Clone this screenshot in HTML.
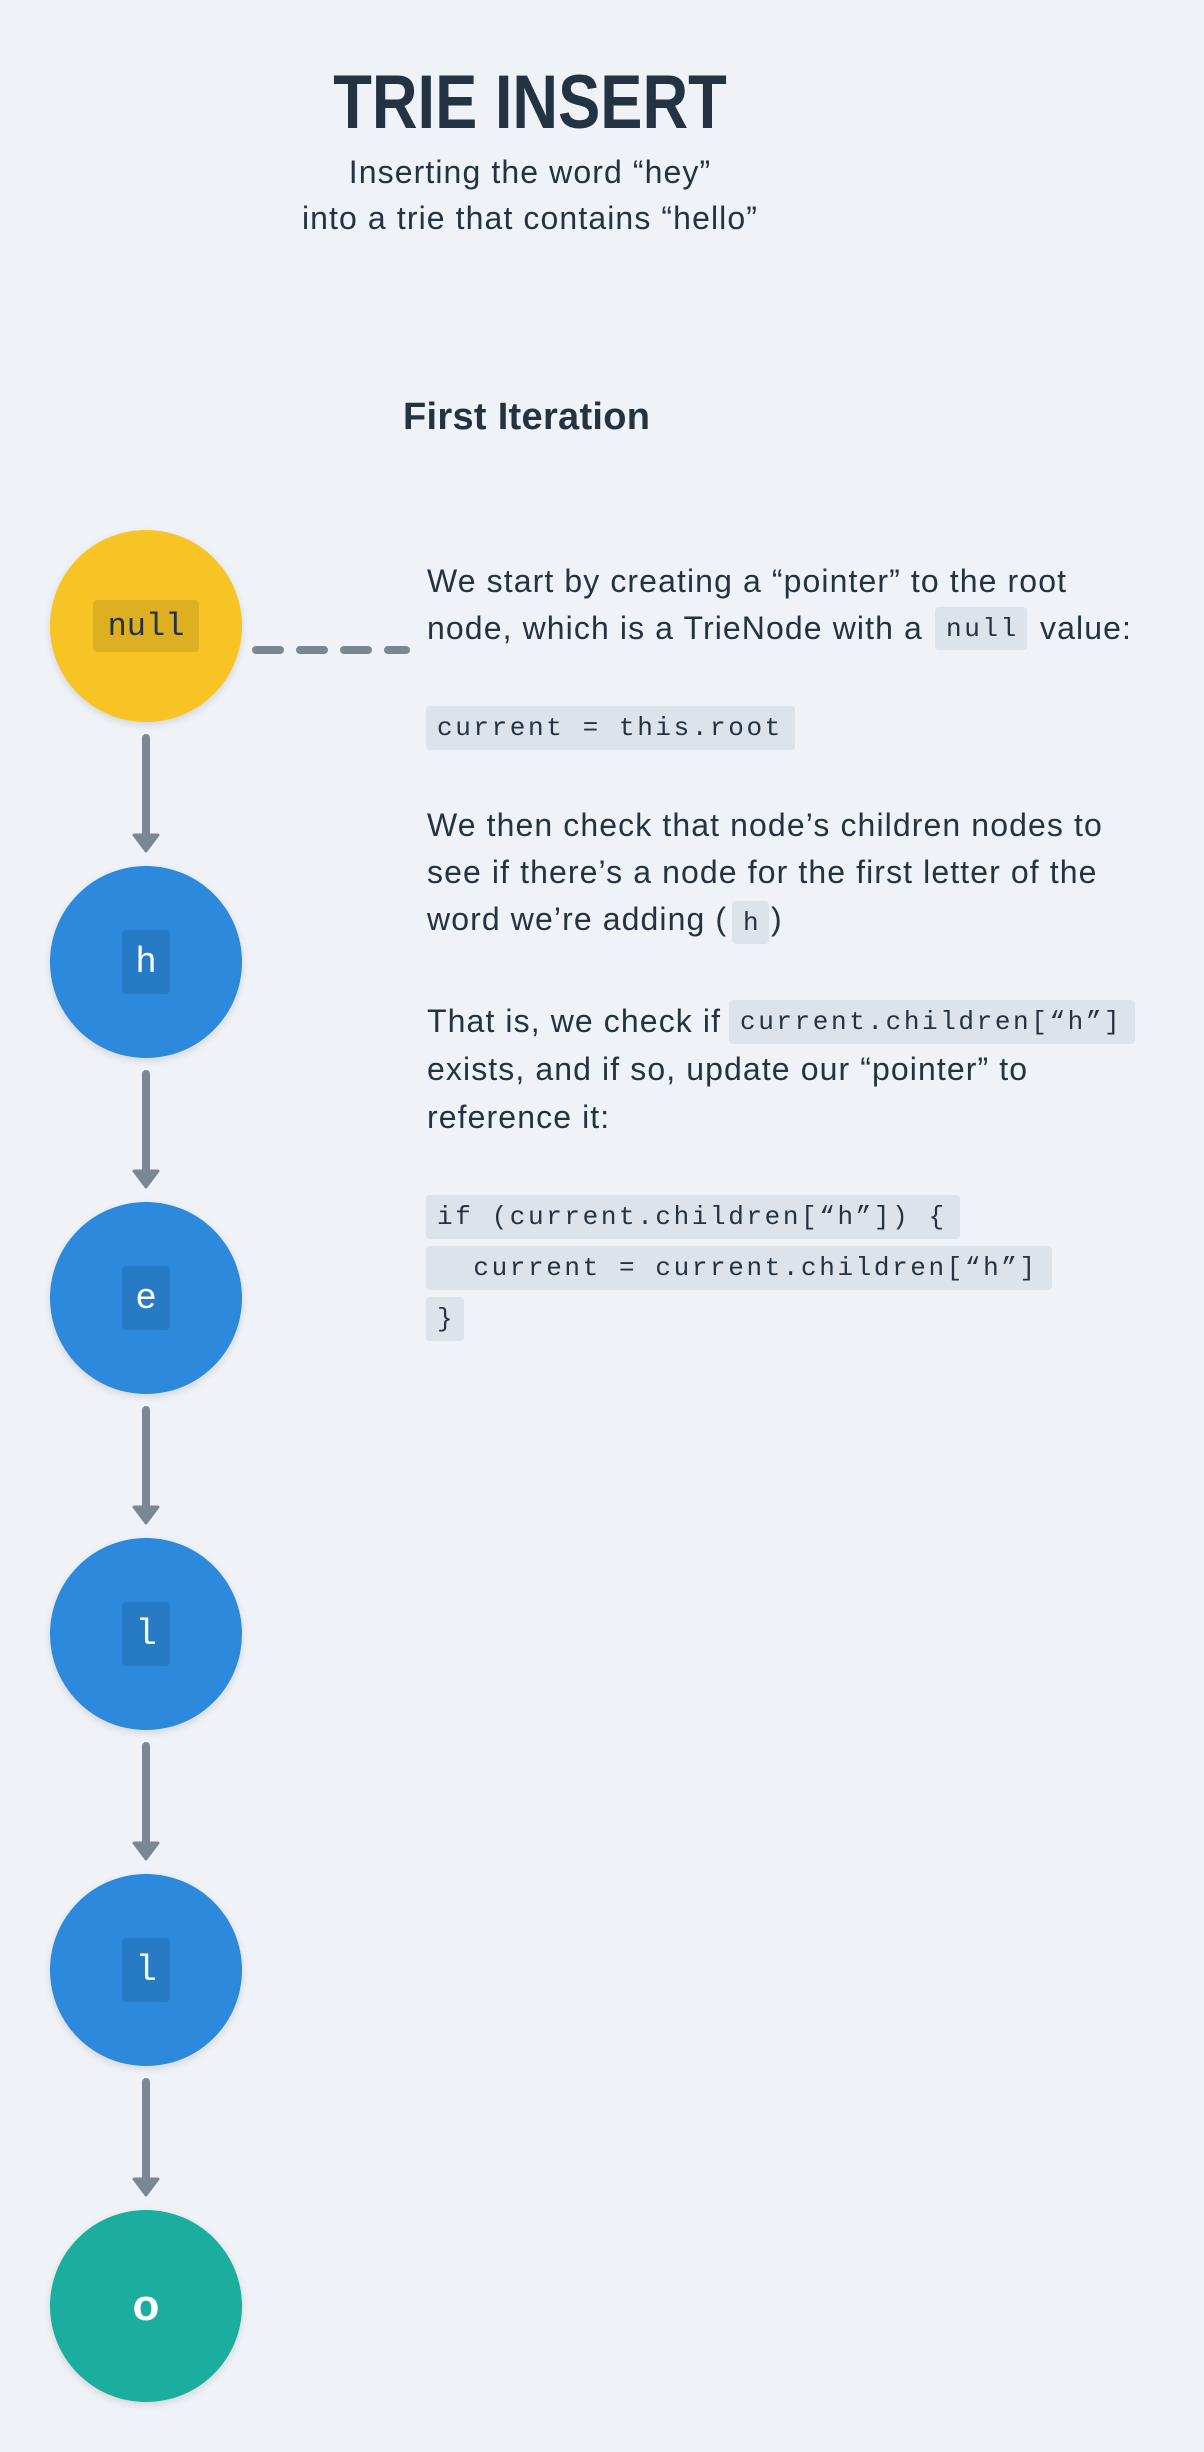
<!DOCTYPE html>
<html><head><meta charset="utf-8"><style>
html,body{margin:0;padding:0}
body{width:1204px;height:2452px;background:#eff3f7;position:relative;overflow:hidden;font-family:"Liberation Sans",sans-serif;color:#243342}
.a{position:absolute;white-space:nowrap;line-height:1}
.t{font-size:32px;letter-spacing:1.1px}
.cb{position:absolute;background:#dde3ea;border-radius:4px;font-family:"Liberation Mono",monospace;font-size:26px;letter-spacing:2.6px;display:flex;align-items:center;white-space:pre;color:#243342;box-sizing:border-box;padding-left:11px}
.node{position:absolute;left:50px;width:192px;height:192px;border-radius:50%;box-shadow:0 3px 8px rgba(0,0,0,0.12);display:flex;align-items:center;justify-content:center}
.lb{background:rgba(0,0,0,0.1);border-radius:4px;font-family:"Liberation Mono",monospace;display:flex;align-items:center;justify-content:center}
</style></head><body>
<div class="a" style="left:0;width:1060px;text-align:center;top:64px;font-size:68px;font-weight:bold;transform:scale(0.93,1.12);transform-origin:530px 0">TRIE INSERT</div>
<div class="a t" style="left:0;width:1060px;text-align:center;top:156px">Inserting the word “hey”</div>
<div class="a t" style="left:0;width:1060px;text-align:center;top:202px">into a trie that contains “hello”</div>
<div class="a" style="left:403px;top:398px;font-size:38px;font-weight:bold;letter-spacing:0.3px">First Iteration</div>

<div class="a t" style="left:427px;top:565px">We start by creating a “pointer” to the root</div>
<div class="a t" style="left:427px;top:612px">node, which is a TrieNode with a</div>
<div class="cb" style="left:935px;top:607px;width:92px;height:43px">null</div>
<div class="a t" style="left:1040px;top:612px">value:</div>
<div class="cb" style="left:426px;top:706px;width:369px;height:44px">current = this.root</div>

<div class="a t" style="left:427px;top:809px">We then check that node’s children nodes to</div>
<div class="a t" style="left:427px;top:856px">see if there’s a node for the first letter of the</div>
<div class="a t" style="left:427px;top:903px">word we’re adding (</div>
<div class="cb" style="left:732px;top:901px;width:37px;height:43px">h</div>
<div class="a t" style="left:771px;top:903px">)</div>

<div class="a t" style="left:427px;top:1005px">That is, we check if</div>
<div class="cb" style="left:729px;top:1000px;width:406px;height:44px">current.children[“h”]</div>
<div class="a t" style="left:427px;top:1053px">exists, and if so, update our “pointer” to</div>
<div class="a t" style="left:427px;top:1101px">reference it:</div>

<div class="cb" style="left:426px;top:1195px;width:534px;height:44px">if (current.children[“h”]) {</div>
<div class="cb" style="left:426px;top:1246px;width:626px;height:44px">  current = current.children[“h”]</div>
<div class="cb" style="left:426px;top:1297px;width:38px;height:44px">}</div>

<svg class="a" style="left:0;top:0" width="1204" height="2452">
<line x1="256" y1="650" x2="406" y2="650" stroke="#7a8794" stroke-width="8" stroke-linecap="round" stroke-dasharray="24 20"/>
<g fill="#7a8794" stroke="#7a8794">
<g id="ar"><line x1="146" y1="738" x2="146" y2="836" stroke-width="8" stroke-linecap="round"/><path d="M134 835 L158 835 L146 851 Z" stroke-width="3" stroke-linejoin="round"/></g>
<use href="#ar" y="336"/><use href="#ar" y="672"/><use href="#ar" y="1008"/><use href="#ar" y="1344"/>
</g></svg>

<div class="node" style="top:530px;background:#f7c325"><div class="lb" style="width:106px;height:52px;font-size:32px;color:#243342">null</div></div>
<div class="node" style="top:866px;background:#2c89db"><div class="lb" style="width:48px;height:64px;font-size:36px;color:#fff">h</div></div>
<div class="node" style="top:1202px;background:#2c89db"><div class="lb" style="width:48px;height:64px;font-size:36px;color:#fff">e</div></div>
<div class="node" style="top:1538px;background:#2c89db"><div class="lb" style="width:48px;height:64px;font-size:36px;color:#fff">l</div></div>
<div class="node" style="top:1874px;background:#2c89db"><div class="lb" style="width:48px;height:64px;font-size:36px;color:#fff">l</div></div>
<div class="node" style="top:2210px;background:#1bae9f"><div style="font-family:'Liberation Sans',sans-serif;font-size:44px;font-weight:bold;color:#fff">o</div></div>
</body></html>
